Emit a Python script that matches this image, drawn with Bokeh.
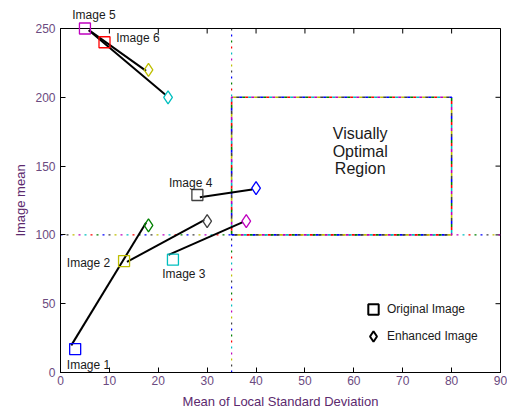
import math
from bokeh.plotting import figure
from bokeh.models import (ColumnDataSource, Legend, LegendItem, FixedTicker, Range1d)
from bokeh.core.properties import value
from bokeh.embed import file_html
from bokeh.resources import INLINE

# ---------------- data ----------------
image_names = ["Image 1", "Image 2", "Image 3", "Image 4", "Image 5", "Image 6"]
orig_x = [3, 13, 23, 28, 5, 9]
orig_y = [17, 81, 82, 129, 250, 240]
enh_x = [18, 30, 38, 40, 22, 18]
enh_y = [107, 110, 110, 134, 200, 220]

# connecting segments (as drawn in the original)
seg_x0 = [2.2, 13.6, 22.1, 28.5, 5.8, 5.8]
seg_y0 = [19.7, 80.4, 85.5, 127.4, 248.8, 248.8]
seg_x1 = [17.5, 29.4, 37.3, 39.2, 21.4, 17.5]
seg_y1 = [108.9, 110.8, 109.3, 133.0, 202.0, 219.2]

# thresholds / visually optimal region
thr_x = 35
thr_y = 100
region_x = [35, 80]
region_y = [100, 200]
region_text = ["Visually", "Optimal", "Region"]

x_ticks = [0, 10, 20, 30, 40, 50, 60, 70, 80, 90]
y_ticks = [0, 50, 100, 150, 200, 250]

# ---------------- styles ----------------
ml = ["#0000ff", "#008000", "#ff0000", "#00bfbf", "#bf00bf", "#bfbf00", "#404040"]
orig_colors = ["#0000ff", "#bfbf00", "#00bfbf", "#404040", "#bf00bf", "#ff0000"]
enh_colors = ["#008000", "#404040", "#bf00bf", "#0000ff", "#00bfbf", "#bfbf00"]

label_x = [1.3, 1.3, 20.8, 22.2, 2.4, 11.4]
label_y = [5.8, 79.5, 71.5, 137.5, 260.0, 242.8]
region_label_x = [61.3, 61.3, 61.3]
region_label_y = [174.0, 160.6, 147.9]

FONT = "Liberation Sans"

p = figure(width=507, height=411, output_backend="svg", toolbar_location=None,
           x_range=Range1d(0, 90), y_range=Range1d(0, 250),
           min_border_left=60, min_border_right=7, min_border_top=28,
           min_border_bottom=38, background_fill_color="white",
           border_fill_color="white")
p.grid.visible = False
p.outline_line_color = "black"
p.outline_line_width = 1

for ax, ticks in ((p.xaxis[0], x_ticks), (p.yaxis[0], y_ticks)):
    ax.ticker = FixedTicker(ticks=ticks)
    ax.major_tick_in = 5
    ax.major_tick_out = 0
    ax.minor_tick_line_color = None
    ax.axis_line_color = "black"
    ax.major_tick_line_color = "black"
    ax.major_label_text_font = FONT
    ax.major_label_text_font_size = "12px"
    ax.major_label_text_color = "#6b4a80"
    ax.axis_label_text_font = FONT
    ax.axis_label_text_font_size = "13px"
    ax.axis_label_text_font_style = "normal"
    ax.axis_label_text_color = "#5c2a6e"

p.xaxis.axis_label = "Mean of Local Standard Deviation"
p.yaxis.axis_label = "Image mean"
p.xaxis.major_label_standoff = 3
p.xaxis.axis_label_standoff = 6
p.yaxis.major_label_standoff = 5
p.yaxis.axis_label_standoff = 4

# inward ticks on the top and right edges of the box
n_x = len(x_ticks)
n_y = len(y_ticks)
p.scatter(x=x_ticks, y=[y_ticks[-1]] * n_x, marker="dash", angle=math.pi / 2,
          size=10, line_color="black", line_width=1)
p.scatter(x=[x_ticks[-1]] * n_y, y=y_ticks, marker="dash", size=10,
          line_color="black", line_width=1)

# multicoloured dotted threshold lines
for i, c in enumerate(ml):
    p.line([thr_x, thr_x], [y_ticks[0], y_ticks[-1]], line_color=c, line_width=1.2,
           line_dash="2 40", line_dash_offset=6 * i)
    p.line([x_ticks[0], x_ticks[-1]], [thr_y, thr_y], line_color=c, line_width=1.2,
           line_dash="2 40", line_dash_offset=6 * i)

# multicoloured region rectangle
rx = [region_x[0], region_x[1], region_x[1], region_x[0], region_x[0]]
ry = [region_y[0], region_y[0], region_y[1], region_y[1], region_y[0]]
for i, c in enumerate(ml):
    p.line(rx, ry, line_color=c, line_width=1.6, line_dash="3 18",
           line_dash_offset=3 * i)

# segments
p.segment(x0=seg_x0, y0=seg_y0, x1=seg_x1, y1=seg_y1, line_color="black",
          line_width=2)

src = ColumnDataSource(dict(name=image_names, ox=orig_x, oy=orig_y, ex=enh_x,
                            ey=enh_y, oc=orig_colors, ec=enh_colors,
                            lx=label_x, ly=label_y))
p.scatter("ox", "oy", source=src, marker="square", size=11, fill_color=None,
          line_color="oc", line_width=1.3, level="overlay")
p.scatter("ex", "ey", source=src, marker="diamond", size=13, fill_color=None,
          line_color="ec", line_width=1.3, level="overlay")

p.text(x="lx", y="ly", text="name", source=src, text_font=value(FONT),
       text_font_size="12px", text_color="#1a1a1a", text_align="left",
       text_baseline="middle", level="overlay")

rsrc = ColumnDataSource(dict(t=region_text, x=region_label_x, y=region_label_y))
p.text(x="x", y="y", text="t", source=rsrc, text_font=value(FONT),
       text_font_size="16px", text_color="#1a1a1a", text_align="center",
       text_baseline="middle")

# legend
nan = float("nan")
r_sq = p.scatter([nan], [nan], marker="square", size=11, fill_color=None,
                 line_color="black", line_width=2)
r_di = p.scatter([nan], [nan], marker="diamond", size=13, fill_color=None,
                 line_color="black", line_width=2)
legend = Legend(items=[LegendItem(label="Original Image", renderers=[r_sq]),
                       LegendItem(label="Enhanced Image", renderers=[r_di])],
                location=(300, 23), padding=0, margin=0, spacing=1,
                glyph_width=26, glyph_height=26, label_height=26,
                label_standoff=1, label_text_font=FONT,
                label_text_font_size="12px", label_text_color="#1a1a1a",
                border_line_color=None, background_fill_alpha=0)
p.add_layout(legend)

open("out.html", "w").write(file_html(p, INLINE))
